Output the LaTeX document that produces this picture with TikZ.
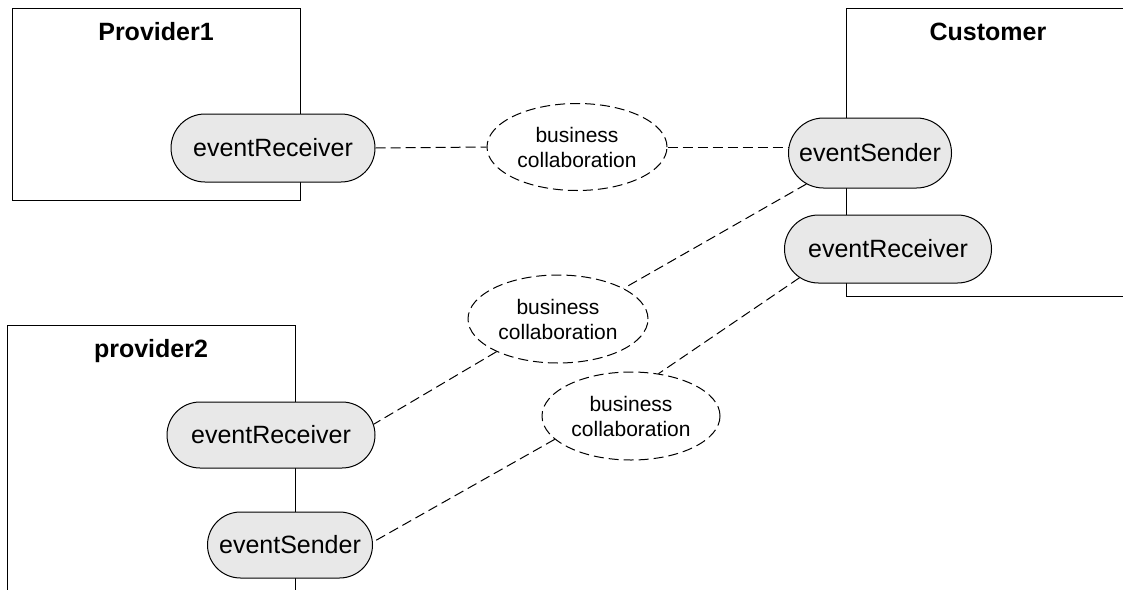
\documentclass[tikz,border=0pt]{standalone}
\usepackage{fontspec}
\setmainfont{Liberation Sans}
\usetikzlibrary{shapes.misc,shapes.geometric}
\definecolor{portgray}{HTML}{E8E8E8}
\newcommand\plabel[1]{\makebox[0pt]{#1}}
\begin{document}
\begin{tikzpicture}[x=1pt,y=-1pt,
  box/.style={draw=black,line width=1pt},
  port/.style={rounded rectangle,draw=black,line width=1pt,fill=portgray,minimum height=68pt,inner sep=0pt,font=\fontsize{25}{30}\selectfont},
  collab/.style={ellipse,draw=black,line width=1pt,dash pattern=on 10pt off 5pt,fill=white,minimum width=180pt,minimum height=87pt,inner sep=0pt,align=center,font=\fontsize{21}{25}\selectfont},
  link/.style={draw=black,line width=1pt,dash pattern=on 10pt off 5pt},
  title/.style={font=\bfseries\fontsize{25}{30}\selectfont,anchor=base,inner sep=0pt}]
\useasboundingbox (0,0) rectangle (1123,589);
\clip (0,0) rectangle (1123,589);
% boxes
\draw[box] (12,8) rectangle (300,200);
\draw[box] (846,8) rectangle (1140,296);
\draw[box] (7,325) rectangle (295,600);
\node[title] (t1) at (156,40) {Provider1};
\node[title] (t2) at (988,40) {Customer};
\node[title] (t3) at (151,357) {provider2};
% ports
\node[port,minimum width=204pt] (P1R) at (273,148) {\plabel{eventReceiver}};
\node[port,minimum width=163pt,minimum height=70pt] (CS) at (870,153) {\plabel{eventSender}};
\node[port,minimum width=207pt] (CR) at (888,249) {\plabel{eventReceiver}};
\node[port,minimum width=208pt,minimum height=66pt] (P2R) at (271,435) {\plabel{eventReceiver}};
\node[port,minimum width=165pt,minimum height=66pt] (P2S) at (290,545) {\plabel{eventSender}};
% collaborations
\node[collab] (E1) at (577,147) {business\\collaboration};
\node[collab,minimum height=88pt] (E2) at (558,319) {business\\collaboration};
\node[collab,minimum width=178pt,minimum height=88pt] (E3) at (631,416) {business\\collaboration};
% links
\draw[link] (P1R.east) -- (E1.west);
\draw[link] (E1.east) -- (E1.east -| CS.west);
\draw[link] (CS.206) -- (E2.25);
\draw[link] (E2.208) -- (P2R.6);
\draw[link] (CR.198) -- (E3.57);
\draw[link] (E3.197) -- (P2S.2);
\end{tikzpicture}
\end{document}
